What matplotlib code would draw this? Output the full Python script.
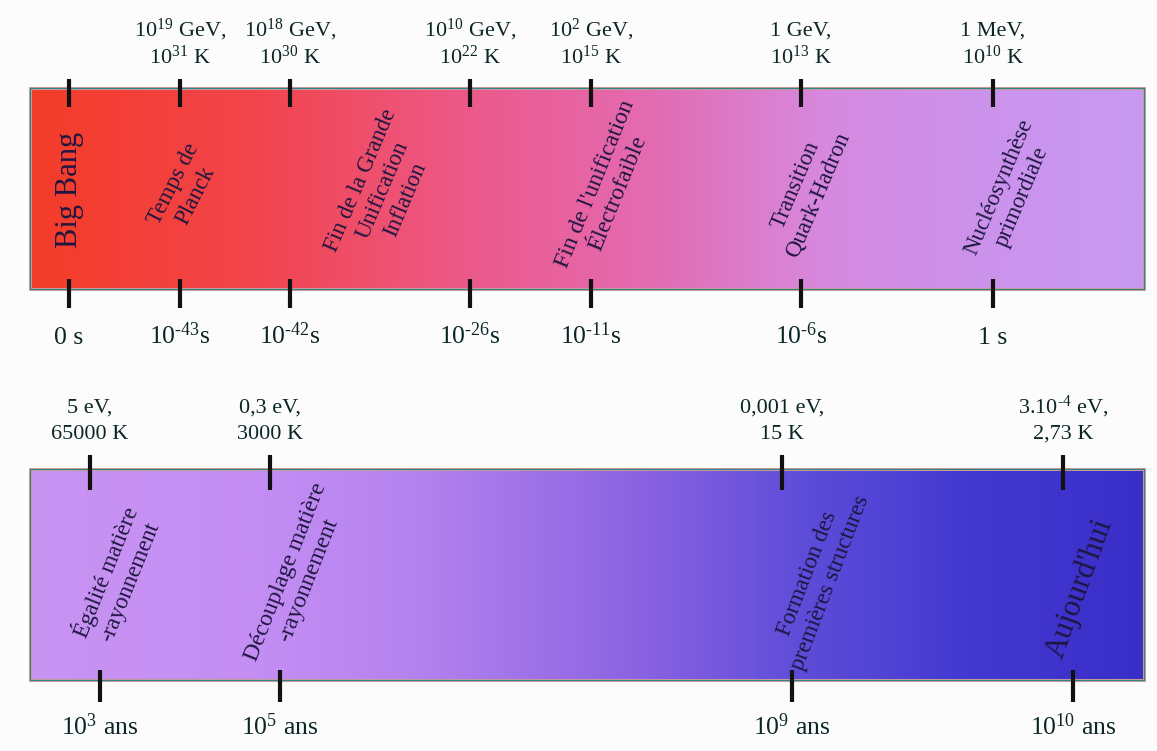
import matplotlib
matplotlib.use("Agg")
import matplotlib.pyplot as plt
import numpy as np
from matplotlib.colors import LinearSegmentedColormap

plt.rcParams['font.family'] = ['Liberation Serif', 'DejaVu Serif']
plt.rcParams['mathtext.fontset'] = 'custom'
plt.rcParams['mathtext.rm'] = 'Liberation Serif'
plt.rcParams['mathtext.it'] = 'Liberation Serif:italic'
plt.rcParams['mathtext.bf'] = 'Liberation Serif:bold'

# ---- data ----
# top timeline (early universe)
top_tick_pos = [69, 180, 290, 470, 591, 801, 993]
top_energy = ["", r"$10^{19}$ GeV,", r"$10^{18}$ GeV,", r"$10^{10}$ GeV,",
              r"$10^{2}$ GeV,", "1 GeV,", "1 MeV,"]
top_temp = ["", r"$10^{31}$ K", r"$10^{30}$ K", r"$10^{22}$ K", r"$10^{15}$ K",
            r"$10^{13}$ K", r"$10^{10}$ K"]
top_time = ["0 s", r"$10^{\text{-}43}$s", r"$10^{\text{-}42}$s", r"$10^{\text{-}26}$s",
            r"$10^{\text{-}11}$s", r"$10^{\text{-}6}$s", "1 s"]
top_events = ["Big Bang", "Temps de\nPlanck", "Fin de la Grande\nUnification\nInflation",
              "Fin de l'unification\nÉlectrofaible", "Transition\nQuark-Hadron",
              "Nucléosynthèse\nprimordiale"]

# bottom timeline (late universe)
bot_tick_pos_upper = [90, 270, 782, 1063]
bot_tick_pos_lower = [100, 280, 792, 1073]
bot_energy = ["5 eV,", "0,3 eV,", "0,001 eV,", r"3.$10^{\text{-}4}$ eV,"]
bot_temp = ["65000 K", "3000 K", "15 K", "2,73 K"]
bot_time = [r"$10^{3}$ ans", r"$10^{5}$ ans", r"$10^{9}$ ans", r"$10^{10}$ ans"]
bot_events = ["Égalité matière\n-rayonnement", "Découplage matière\n-rayonnement",
              "Formation des\npremières structures", "Aujourd'hui"]

# ---- layout / style ----
W, H = 1157, 751
fig = plt.figure(figsize=(W / 100, H / 100), dpi=100)
ax = fig.add_axes([0, 0, 1, 1])
ax.set_xlim(0, W)
ax.set_ylim(H, 0)
ax.axis('off')
fig.patch.set_facecolor('#fbfcfb')

out_col = '#0c2626'
ev_col = '#1e1640'
E_SIZE = 16
T_SIZE = 18.5

def gradient_box(x0, x1, y0, y1, stops):
    cmap = LinearSegmentedColormap.from_list('g', stops)
    grad = np.linspace(0, 1, 512).reshape(1, -1)
    ax.imshow(grad, cmap=cmap, extent=(x0, x1, y1, y0), aspect='auto', zorder=1,
              interpolation='bilinear')
    ax.add_patch(plt.Rectangle((x0, y0), x1 - x0, y1 - y0, fill=False,
                               edgecolor='#e8a0a0', lw=2.2, zorder=2))
    ax.add_patch(plt.Rectangle((x0, y0), x1 - x0, y1 - y0, fill=False,
                               edgecolor='#2f8585', lw=1.0, zorder=3))

# top box
gradient_box(30, 1144, 88, 289, [
    (0.0, '#f43c28'), (0.2, '#f2444c'), (0.4, '#ec5a8c'), (0.55, '#e46ab0'),
    (0.72, '#d68ae0'), (0.85, '#cc92ec'), (1.0, '#c89af2')])
# bottom box
gradient_box(30, 1144, 469, 680, [
    (0.0, '#c894f2'), (0.2, '#c48ef4'), (0.35, '#b482ee'), (0.55, '#8a62e2'),
    (0.7, '#5c4cd8'), (0.85, '#4238d0'), (1.0, '#3a2ec8')])

tick_kw = dict(color='#111111', lw=3.0, solid_capstyle='butt', zorder=4)

for x, en, tp, tm in zip(top_tick_pos, top_energy, top_temp, top_time):
    ax.plot([x, x], [79, 107], **tick_kw)
    ax.plot([x, x], [279, 308], **tick_kw)
    if en:
        ax.text(x, 36, en, ha='center', va='baseline', fontsize=E_SIZE, color=out_col)
        ax.text(x, 64, tp, ha='center', va='baseline', fontsize=E_SIZE, color=out_col)
    ax.text(x, 344, tm, ha='center', va='baseline', fontsize=T_SIZE, color=out_col)

top_ev_xy = [(69, 190), (185, 190), (383, 190), (607, 189), (807, 190), (1010, 192)]
top_ev_rot = [90, 63, 67, 68, 67, 67]
top_ev_size = [22, 16.5, 16.5, 17, 16.5, 16.5]
for (x, y), txt, r, s in zip(top_ev_xy, top_events, top_ev_rot, top_ev_size):
    ax.text(x, y, txt, ha='center', va='center', rotation=r, rotation_mode='anchor',
            fontsize=s, color=ev_col, multialignment='center', linespacing=1.22,
            zorder=5)

for x, en, tp in zip(bot_tick_pos_upper, bot_energy, bot_temp):
    ax.plot([x, x], [455, 490], **tick_kw)
    ax.text(x, 413, en, ha='center', va='baseline', fontsize=E_SIZE, color=out_col)
    ax.text(x, 439, tp, ha='center', va='baseline', fontsize=E_SIZE, color=out_col)
for x, tm in zip(bot_tick_pos_lower, bot_time):
    ax.plot([x, x], [670, 702], **tick_kw)
    ax.text(x, 735, tm, ha='center', va='baseline', fontsize=T_SIZE, color=out_col)

bot_ev_xy = [(117, 577), (297, 576), (819, 578), (1080, 588)]
bot_ev_rot = [68, 68.5, 69, 70]
bot_ev_size = [16.5, 17, 16.5, 22]
for (x, y), txt, r, s in zip(bot_ev_xy, bot_events, bot_ev_rot, bot_ev_size):
    ax.text(x, y, txt, ha='center', va='center', rotation=r, rotation_mode='anchor',
            fontsize=s, color=ev_col, multialignment='center', linespacing=1.22,
            zorder=5)

fig.savefig('out.png', dpi=100, facecolor=fig.get_facecolor())
